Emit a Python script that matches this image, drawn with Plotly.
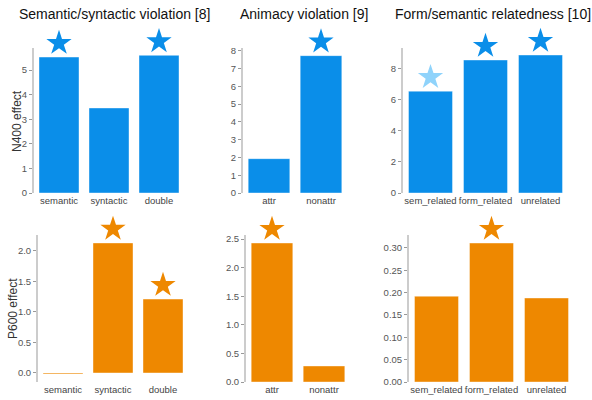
import plotly.graph_objects as go

W, H = 592, 400

# ---- data ----
titles = ["Semantic/syntactic violation [8]", "Animacy violation [9]", "Form/semantic relatedness [10]"]
cats_sem = ["semantic", "syntactic", "double"]
cats_anim = ["attr", "nonattr"]
cats_rel = ["sem_related", "form_related", "unrelated"]

n400_sem = [5.53, 3.46, 5.60]
n400_anim = [1.93, 7.72]
n400_rel = [6.53, 8.53, 8.85]

p600_sem = [-0.015, 2.13, 1.21]
p600_anim = [2.43, 0.28]
p600_rel = [0.192, 0.311, 0.188]

# significance: 2 = strong star, 1 = faint star, 0 = none
n400_sem_sig = [2, 0, 2]
n400_anim_sig = [0, 2]
n400_rel_sig = [1, 2, 2]
p600_sem_sig = [0, 2, 2]
p600_anim_sig = [2, 0]
p600_rel_sig = [0, 2, 0]

BLUE = "#0a8ee9"
BLUE_LIGHT = "#8fd3fb"
ORANGE = "#ee8800"
ORANGE_LIGHT = "#f7c480"

# panel geometry in pixels: (x0, x1, ytop, ybottom)
panels = [
    dict(cats=cats_sem, vals=n400_sem, sig=n400_sem_sig, px=(34, 184), py=(48, 193), yr=[0, 5.9], dtick=1, fmt="d", color=BLUE, light=BLUE_LIGHT),
    dict(cats=cats_anim, vals=n400_anim, sig=n400_anim_sig, px=(243, 347), py=(48, 193), yr=[0, 8.15], dtick=1, fmt="d", color=BLUE, light=BLUE_LIGHT),
    dict(cats=cats_rel, vals=n400_rel, sig=n400_rel_sig, px=(403, 568), py=(48, 193), yr=[0, 9.3], dtick=2, fmt="d", color=BLUE, light=BLUE_LIGHT),
    dict(cats=cats_sem, vals=p600_sem, sig=p600_sem_sig, px=(38, 188), py=(235, 382), yr=[-0.148, 2.26], dtick=0.5, fmt=".1f", color=ORANGE, light=ORANGE_LIGHT),
    dict(cats=cats_anim, vals=p600_anim, sig=p600_anim_sig, px=(246, 350), py=(235, 382), yr=[0, 2.57], dtick=0.5, fmt=".1f", color=ORANGE, light=ORANGE_LIGHT),
    dict(cats=cats_rel, vals=p600_rel, sig=p600_rel_sig, px=(409, 574), py=(235, 382), yr=[0, 0.329], dtick=0.05, fmt=".2f", color=ORANGE, light=ORANGE_LIGHT),
]

fig = go.Figure()
layout = dict(
    width=W, height=H,
    margin=dict(l=0, r=0, t=0, b=0, pad=0, autoexpand=False),
    paper_bgcolor="white", plot_bgcolor="rgba(0,0,0,0)",
    showlegend=False,
    font=dict(family="Liberation Sans, Arial, sans-serif", color="#555555", size=9),
    bargap=0.2,
)

STAR_PX = 14   # star centre offset above bar top, in pixels
EXTRA_PX = 25  # extra headroom for the invisible star subplot

n = len(panels)
for i, p in enumerate(panels):
    k = "" if i == 0 else str(i + 1)
    ks = str(n + i + 1)  # star subplot index
    xa, ya = "x" + k, "y" + k
    xsa, ysa = "x" + ks, "y" + ks
    x0, x1 = p["px"]
    yt, yb = p["py"]
    xr = [-0.5, len(p["cats"]) - 0.5]
    fig.add_trace(go.Bar(
        x=p["cats"], y=p["vals"], xaxis=xa, yaxis=ya,
        marker=dict(color=p["color"], line=dict(color="rgba(255,255,255,0.5)", width=0.8)),
        width=0.8,
    ))
    span = p["yr"][1] - p["yr"][0]
    per_px = span / (yb - yt)
    sx, sy, sc = [], [], []
    for c, v, s in zip(p["cats"], p["vals"], p["sig"]):
        if s:
            sx.append(p["cats"].index(c))
            sy.append(max(v, 0) + STAR_PX * per_px)
            sc.append(p["color"] if s == 2 else p["light"])
    if sx:
        fig.add_trace(go.Scatter(
            x=sx, y=sy, xaxis=xsa, yaxis=ysa, mode="markers",
            marker=dict(symbol="star", size=19, color=sc, line=dict(width=0)),
            cliponaxis=False, hoverinfo="skip",
        ))
    layout["xaxis" + k] = dict(
        domain=[x0 / W, x1 / W], anchor=ya, range=xr, automargin=False,
        showline=False, showgrid=False, zeroline=False, ticks="",
        tickfont=dict(size=9.5, color="#444444"), fixedrange=True,
    )
    layout["yaxis" + k] = dict(
        domain=[1 - yb / H, 1 - yt / H], anchor=xa, range=p["yr"], automargin=False,
        showline=True, linecolor="#cccccc", linewidth=2,
        showgrid=False, zeroline=False,
        ticks="outside", ticklen=3, tickwidth=1, tickcolor="#999999",
        dtick=p["dtick"], tick0=0, tickformat=p["fmt"],
        tickfont=dict(size=9.5, color="#555555"), fixedrange=True,
    )
    # invisible star subplot: same pixel scale, extra headroom at top
    layout["xaxis" + ks] = dict(domain=[x0 / W, x1 / W], anchor=ysa, range=xr,
                                visible=False, fixedrange=True, automargin=False)
    layout["yaxis" + ks] = dict(
        domain=[1 - yb / H, 1 - (yt - EXTRA_PX) / H], anchor=xsa,
        range=[p["yr"][0], p["yr"][1] + EXTRA_PX * per_px],
        visible=False, fixedrange=True, automargin=False,
    )

fig.update_layout(**layout)

# titles
title_left = [17, 238, 393]
for t, lx in zip(titles, title_left):
    fig.add_annotation(text=t, x=lx / W, y=1 - 14 / H, xref="paper", yref="paper",
                       showarrow=False, xanchor="left", yanchor="middle",
                       font=dict(size=14, color="#111111"))

# y-axis labels
fig.add_annotation(text="N400 effect", x=17 / W, y=1 - 121 / H, xref="paper", yref="paper",
                   showarrow=False, textangle=-90, xanchor="center", yanchor="middle",
                   font=dict(size=12, color="#333333"))
fig.add_annotation(text="P600 effect", x=13 / W, y=1 - 309 / H, xref="paper", yref="paper",
                   showarrow=False, textangle=-90, xanchor="center", yanchor="middle",
                   font=dict(size=12, color="#333333"))

fig.write_html(
    "out.html",
    config={"displayModeBar": False, "staticPlot": True},
    post_script="document.body.style.margin='0';document.body.style.overflow='hidden';",
)
